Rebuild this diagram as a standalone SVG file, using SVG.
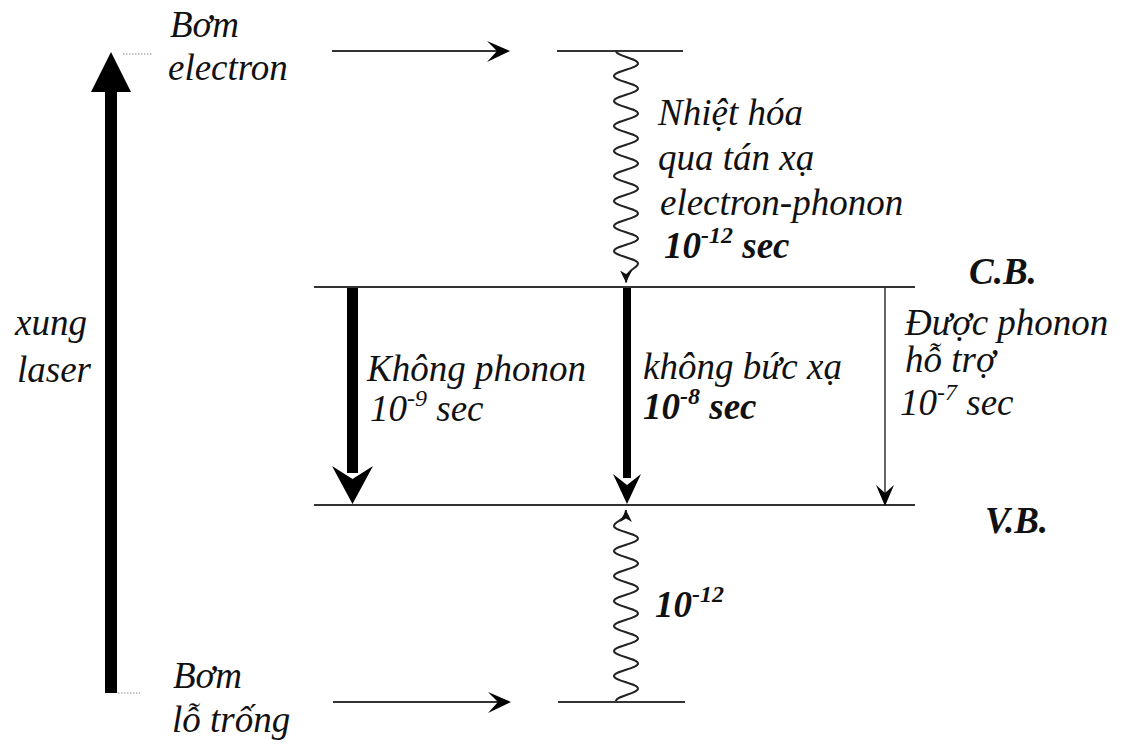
<svg xmlns="http://www.w3.org/2000/svg" width="1126" height="745" viewBox="0 0 1126 745">
<style>
text{font-family:'Liberation Serif' !important;font-style:italic;font-size:37px;fill:#111}
.b{font-weight:bold}
.sup{font-size:24px}
.lvl{stroke:#333;stroke-width:2;fill:none}
.wave{stroke:#222;stroke-width:2;fill:none}
.dot{stroke:#888;stroke-width:1;stroke-dasharray:1.5,1.5}
</style>
<defs>
<marker id="sm" markerWidth="12" markerHeight="12" refX="10" refY="5" orient="auto" markerUnits="userSpaceOnUse" viewBox="0 0 10 10">
<path d="M0,0 L10,5 L0,10 L3,5 z" fill="#111"/>
</marker>
</defs>
<g id="laser">
<rect x="105" y="90" width="12" height="603" fill="#000"/>
<polygon points="111,52 131,92 91,92" fill="#000"/>
<line class="dot" x1="123" y1="54" x2="153" y2="54"/>
<line class="dot" x1="118" y1="693" x2="140" y2="693"/>
<text style="font-family:'Liberation Serif' !important" x="15" y="335">xung</text>
<text style="font-family:'Liberation Serif' !important" x="17" y="382">laser</text>
</g>
<g id="pump-electron">
<text style="font-family:'Liberation Serif' !important" x="170" y="37">Bơm</text>
<text style="font-family:'Liberation Serif' !important" x="168" y="80">electron</text>
</g>
<g id="pump-hole">
<text style="font-family:'Liberation Serif' !important" x="173" y="688">Bơm</text>
<text style="font-family:'Liberation Serif' !important" x="172" y="732">lỗ trống</text>
</g>
<g id="top-level"><line class="lvl" x1="557" y1="51" x2="683" y2="51"/></g>
<g id="bottom-level"><line class="lvl" x1="558" y1="702" x2="685" y2="702"/></g>
<g id="cb">
<line class="lvl" x1="314" y1="287" x2="915" y2="287"/>
<text style="font-family:'Liberation Serif' !important" class="b" x="969" y="284">C.B.</text>
</g>
<g id="vb">
<line class="lvl" x1="314" y1="505" x2="915" y2="505"/>
<text style="font-family:'Liberation Serif' !important" class="b" x="985" y="533">V.B.</text>
</g>
<g id="labels">
<text style="font-family:'Liberation Serif' !important" x="658" y="125">Nhiệt hóa</text>
<text style="font-family:'Liberation Serif' !important" x="658" y="170">qua tán xạ</text>
<text style="font-family:'Liberation Serif' !important" x="660" y="215">electron-phonon</text>
<text style="font-family:'Liberation Serif' !important" class="b" x="664" y="258">10<tspan class="sup" dy="-15">-12</tspan><tspan dy="15"> sec</tspan></text>
<text style="font-family:'Liberation Serif' !important" x="367" y="381">Không phonon</text>
<text style="font-family:'Liberation Serif' !important" x="370" y="421">10<tspan class="sup" dy="-15">-9</tspan><tspan dy="15"> sec</tspan></text>
<text style="font-family:'Liberation Serif' !important" x="643" y="379">không bức xạ</text>
<text style="font-family:'Liberation Serif' !important" class="b" x="643" y="419">10<tspan class="sup" dy="-15">-8</tspan><tspan dy="15"> sec</tspan></text>
<text style="font-family:'Liberation Serif' !important" x="905" y="335">Được phonon</text>
<text style="font-family:'Liberation Serif' !important" x="905" y="372">hỗ trợ</text>
<text style="font-family:'Liberation Serif' !important" x="900" y="415">10<tspan class="sup" dy="-15">-7</tspan><tspan dy="15"> sec</tspan></text>
<text style="font-family:'Liberation Serif' !important" class="b" x="655" y="617">10<tspan class="sup" dy="-15">-12</tspan></text>
</g>
<g id="connectors">
<line x1="332" y1="51" x2="500" y2="51" stroke="#333" stroke-width="2"/>
<polygon points="510,51 487,41 497,51 487,62" fill="#000"/>
<line x1="333" y1="702" x2="500" y2="702" stroke="#333" stroke-width="2"/>
<polygon points="511,702 488,692 498,702 488,713" fill="#000"/>
<path class="wave" marker-end="url(#sm)" d="M616,51 c0,5 22,7.5 22,12.5 s-24,7.5 -24,12.5 s24,7.5 24,12.5 s-24,7.5 -24,12.5 s24,7.5 24,12.5 s-24,7.5 -24,12.5 s24,7.5 24,12.5 s-24,7.5 -24,12.5 s24,7.5 24,12.5 s-24,7.5 -24,12.5 s24,7.5 24,12.5 s-24,7.5 -24,12.5 s24,7.5 24,12.5 s-24,7.5 -24,12.5 s24,7.5 24,12.5 s-24,7.5 -24,12.5 s24,7.5 24,12.5 s-12,5 -12,19"/>
<path class="wave" marker-end="url(#sm)" d="M616,701 c0,-5 22,-7.5 22,-12.5 s-24,-7.5 -24,-12.5 s24,-7.5 24,-12.5 s-24,-7.5 -24,-12.5 s24,-7.5 24,-12.5 s-24,-7.5 -24,-12.5 s24,-7.5 24,-12.5 s-24,-7.5 -24,-12.5 s24,-7.5 24,-12.5 s-24,-7.5 -24,-12.5 s24,-7.5 24,-12.5 s-24,-7.5 -24,-12.5 s24,-7.5 24,-12.5 s-24,-7.5 -24,-12.5 s12,-5 12,-16"/>
<rect x="347" y="288" width="11" height="185" fill="#000"/>
<polygon points="352.5,504 332,466 352.5,479 373,466" fill="#000"/>
<rect x="623" y="288" width="8" height="190" fill="#000"/>
<polygon points="627,504 613,474 627,485 641,474" fill="#000"/>
<line x1="885" y1="288" x2="885" y2="495" stroke="#333" stroke-width="1.5"/>
<polygon points="885,506 876,485 885,493 894,485" fill="#000"/>
</g>
</svg>
